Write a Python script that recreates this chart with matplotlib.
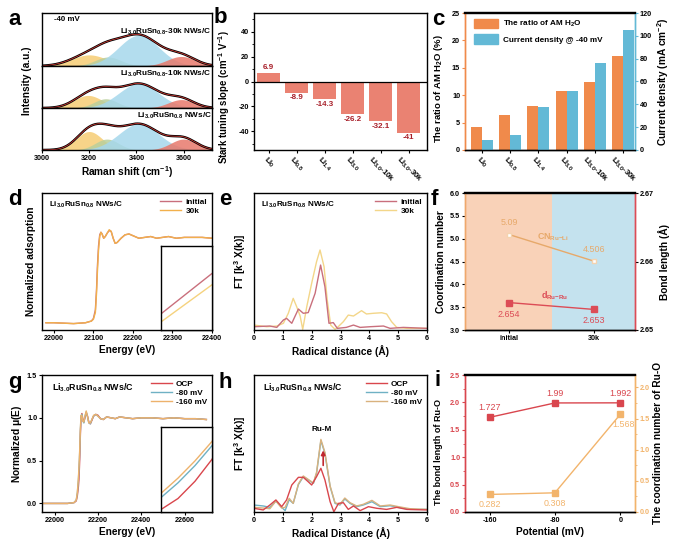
import numpy as np
import matplotlib
matplotlib.use('Agg')
import matplotlib.pyplot as plt
from matplotlib.patches import Patch
from matplotlib.lines import Line2D

plt.rcParams.update({
    'font.family': ['Liberation Sans', 'DejaVu Sans'],
    'font.weight': 'bold',
    'axes.labelweight': 'bold',
    'axes.unicode_minus': False,
    'mathtext.fontset': 'custom',
    'mathtext.rm': 'Liberation Sans:bold',
    'mathtext.it': 'Liberation Sans:bold',
    'mathtext.bf': 'Liberation Sans:bold',
    'mathtext.default': 'rm',
    'axes.linewidth': 1.0,
    'xtick.labelsize': 5.2,
    'ytick.labelsize': 5.2,
    'xtick.major.size': 2,
    'ytick.major.size': 2,
    'xtick.minor.size': 1.2,
    'ytick.minor.size': 1.2,
    'xtick.major.width': 0.8,
    'ytick.major.width': 0.8,
    'xtick.major.pad': 1.5,
    'ytick.major.pad': 1.5,
    'axes.labelsize': 7.3,
    'axes.labelpad': 2,
})

# ---------------- data ----------------
# (a) Raman fitted peaks: centers (cm-1), widths (sigma), heights (fraction of sub-panel)
raman_labels = ['Li$_{3.0}$RuSn$_{0.8}$-30k NWs/C', 'Li$_{3.0}$RuSn$_{0.8}$-10k NWs/C', 'Li$_{3.0}$RuSn$_{0.8}$ NWs/C']
raman_centers = [[3200, 3280, 3410, 3590], [3195, 3270, 3410, 3590], [3200, 3275, 3410, 3600]]
raman_sigmas = [[75, 55, 85, 60], [60, 50, 85, 55], [55, 50, 85, 55]]
raman_heights = [[0.21, 0.17, 0.58, 0.18], [0.30, 0.22, 0.58, 0.20], [0.44, 0.26, 0.62, 0.26]]
raman_colors = ['#F6CD74', '#B9CF9C', '#A6D8EC', '#E8796C']

# (b) Stark tuning slope
cats = ['Li$_0$', 'Li$_{0.8}$', 'Li$_{1.4}$', 'Li$_{3.0}$', 'Li$_{3.0}$-10k', 'Li$_{3.0}$-30k']
stark = [6.9, -8.9, -14.3, -26.2, -32.1, -41]
stark_labels = ['6.9', '-8.9', '-14.3', '-26.2', '-32.1', '-41']

# (c) AM H2O ratio and current density
am_ratio = [4.2, 6.4, 8.0, 10.8, 12.4, 17.2]
current = [9, 13, 38, 52, 76, 105]

# (d) XANES initial / 30k
E_d = [21980, 22000, 22050, 22080, 22095, 22100, 22105, 22108, 22110, 22113, 22116, 22119, 22122, 22126,
       22130, 22135, 22140, 22145, 22150, 22155, 22160, 22170, 22180, 22190, 22200, 22215, 22230, 22245,
       22260, 22275, 22290, 22310, 22330, 22350, 22375, 22400]
xan_init = [0.0, 0.0, -0.01, 0.0, 0.02, 0.05, 0.15, 0.40, 0.65, 0.90, 1.03, 1.06, 1.04, 0.99, 1.01, 1.05, 1.08,
            1.07, 0.99, 0.93, 0.94, 0.99, 1.03, 1.04, 1.02, 0.99, 1.00, 1.01, 0.99, 1.00, 1.01, 0.99, 1.00,
            1.00, 1.00, 0.99]
xan_30k = [0.0, 0.0, -0.01, 0.0, 0.02, 0.04, 0.12, 0.35, 0.58, 0.85, 1.01, 1.06, 1.04, 0.99, 1.01, 1.05, 1.09,
           1.07, 0.99, 0.93, 0.94, 0.99, 1.03, 1.04, 1.02, 0.99, 1.00, 1.01, 0.99, 1.00, 1.01, 0.99, 1.00,
           1.00, 1.00, 0.99]

# (e) FT-EXAFS initial / 30k
R_e_init = [0.0, 0.55, 0.79, 1.02, 1.13, 1.31, 1.54, 1.71, 1.88, 2.12, 2.31, 2.46, 2.60, 2.75, 2.89, 3.20,
            3.45, 3.68, 4.03, 4.49, 4.72, 5.18, 6.0]
ft_init = [0.024, 0.029, 0.019, 0.073, 0.085, 0.049, 0.153, 0.122, 0.127, 0.268, 0.474, 0.316, 0.049, 0.054,
           0.012, 0.019, 0.036, 0.019, 0.024, 0.029, 0.012, 0.019, 0.012]
R_e_30k = [0.0, 0.44, 0.79, 1.02, 1.19, 1.36, 1.48, 1.60, 1.69, 1.83, 2.00, 2.17, 2.29, 2.43, 2.54, 2.66,
           2.81, 2.92, 3.10, 3.27, 3.45, 3.73, 3.90, 4.14, 4.43, 4.60, 4.77, 4.95, 5.30, 6.0]
ft_30k = [0.036, 0.024, 0.029, 0.049, 0.122, 0.231, 0.170, 0.102, 0.005, 0.170, 0.341, 0.499, 0.584, 0.462,
          0.219, 0.036, 0.005, 0.024, 0.061, 0.109, 0.102, 0.141, 0.117, 0.122, 0.126, 0.117, 0.061, 0.019,
          0.012, 0.012]

# (f) coordination number / bond length
f_cats = ['initial', '30k']
cn_ru_li = [5.09, 4.506]
d_ru_ru = [2.654, 2.653]

# (g) in-situ XANES
E_g = [21940, 21980, 22020, 22060, 22090, 22100, 22105, 22110, 22112, 22114, 22116, 22119, 22122, 22126, 22130,
       22135, 22140, 22146, 22152, 22158, 22165, 22172, 22180, 22190, 22200, 22212, 22225, 22240, 22260, 22280,
       22300, 22330, 22360, 22400, 22450, 22500, 22550, 22600, 22650, 22700]
mu_ocp = [0.0, 0.0, 0.0, 0.0, 0.01, 0.03, 0.09, 0.20, 0.27, 0.38, 0.52, 0.80, 1.00, 1.05, 0.99, 0.95, 1.00, 1.06,
          1.02, 0.95, 0.93, 0.97, 1.02, 1.04, 1.03, 0.99, 0.98, 1.01, 1.00, 0.99, 1.01, 1.00, 0.99, 1.00, 1.00,
          0.99, 1.00, 0.99, 0.99, 0.98]
mu_80 = [0.0, 0.0, 0.0, 0.0, 0.01, 0.04, 0.12, 0.276, 0.37, 0.48, 0.607, 0.85, 1.02, 1.04, 0.97, 0.94, 1.01,
         1.07, 1.01, 0.94, 0.93, 0.98, 1.02, 1.04, 1.02, 0.99, 0.98, 1.01, 1.00, 0.99, 1.01, 1.00, 0.99, 1.00,
         1.00, 0.99, 1.00, 0.99, 0.99, 0.98]
mu_160 = [0.0, 0.0, 0.0, 0.0, 0.01, 0.04, 0.13, 0.303, 0.40, 0.51, 0.634, 0.87, 1.03, 1.03, 0.96, 0.95, 1.02,
          1.08, 1.01, 0.94, 0.94, 0.98, 1.03, 1.04, 1.02, 0.99, 0.98, 1.01, 1.00, 0.99, 1.01, 1.00, 0.99, 1.00,
          1.00, 0.99, 1.00, 0.99, 0.99, 0.98]

# (h) in-situ FT-EXAFS
R_h_ocp = [0.0, 0.32, 0.55, 0.76, 0.96, 1.13, 1.31, 1.54, 1.71, 1.88, 2.00, 2.17, 2.32, 2.46, 2.64, 2.77, 2.93,
           3.10, 3.27, 3.45, 3.68, 3.97, 4.26, 4.60, 4.95, 5.30, 6.0]
ft_ocp = [0.027, 0.015, 0.051, 0.088, 0.039, 0.088, 0.197, 0.253, 0.253, 0.221, 0.197, 0.258, 0.319, 0.234,
          0.075, 0.002, 0.063, 0.068, 0.019, 0.044, 0.010, 0.039, 0.027, 0.019, 0.034, 0.019, 0.015]
R_h_v = [0.0, 0.32, 0.55, 0.76, 0.96, 1.08, 1.22, 1.36, 1.54, 1.71, 1.88, 2.06, 2.17, 2.32, 2.46, 2.64, 2.81,
         2.98, 3.15, 3.33, 3.56, 3.79, 4.09, 4.38, 4.72, 5.01, 5.41, 6.0]
ft_80 = [0.051, 0.044, 0.034, 0.080, 0.034, 0.010, 0.090, 0.063, 0.200, 0.258, 0.234, 0.209, 0.282, 0.521,
         0.428, 0.185, 0.063, 0.051, 0.095, 0.063, 0.039, 0.051, 0.075, 0.039, 0.046, 0.034, 0.019, 0.019]
ft_160 = [0.034, 0.029, 0.024, 0.080, 0.029, 0.034, 0.100, 0.063, 0.205, 0.263, 0.238, 0.212, 0.290, 0.530,
          0.435, 0.190, 0.068, 0.056, 0.102, 0.068, 0.044, 0.056, 0.085, 0.044, 0.051, 0.039, 0.024, 0.019]

# (i) Ru-O bond length and coordination number
potential = [-160, -80, 0]
bond_ruo = [1.727, 1.99, 1.992]
cn_ruo = [0.282, 0.308, 1.568]

# ---------------- figure ----------------
W, H = 683, 545
fig = plt.figure(figsize=(W / 100, H / 100), dpi=100)


def axbox(l, t, r, b):
    return fig.add_axes([l / W, 1 - b / H, (r - l) / W, (b - t) / H])


def letter(x, y, s):
    fig.text(x / W, 1 - y / H, s, fontsize=16, fontweight='bold', va='top', ha='left')


def figtxt(x, y, s, **kw):
    fig.text(x / W, 1 - y / H, s, **kw)


leg_kw = dict(frameon=False, fontsize=5.9, handlelength=2.6, borderaxespad=0.2,
              labelspacing=0.15, handletextpad=0.5)

# ----- (a) -----
bounds = [13, 66, 108, 150]
xr = np.linspace(3000, 3720, 400)
for k in range(3):
    ax = axbox(42, bounds[k], 212, bounds[k + 1])
    total = np.zeros_like(xr)
    for c, s, h, col in zip(raman_centers[k], raman_sigmas[k], raman_heights[k], raman_colors):
        g = h * np.exp(-(xr - c) ** 2 / (2 * s ** 2))
        total += g
        ax.fill_between(xr, 0, g, color=col, alpha=0.85, lw=0)
    ax.plot(xr, total, color='black', lw=1.7)
    ax.plot(xr, total, color='#E8403A', lw=0.5)
    ax.set_xlim(3000, 3720)
    ax.set_ylim(0, 1.0)
    ax.set_yticks([])
    ax.text(0.998, 0.93 if k else 0.74, raman_labels[k], transform=ax.transAxes, ha='right', va='top', fontsize=5.9)
    if k == 0:
        ax.text(0.07, 0.95, '-40 mV', transform=ax.transAxes, ha='left', va='top', fontsize=5.7)
    if k < 2:
        ax.set_xticks([])
    else:
        ax.set_xticks([3000, 3200, 3400, 3600])
        ax.set_xlabel('Raman shift (cm$^{-1}$)')
figtxt(27, 81, 'Intensity (a.u.)', rotation=90, ha='center', va='center', fontsize=7.3, fontweight='bold')
letter(8, 9, 'a')

# ----- (b) -----
ax = axbox(254, 13, 427, 150)
xb = np.arange(len(cats))
ax.bar(xb, stark, width=0.82, color='#EA8272')
ax.axhline(0, color='black', lw=0.9)
for xi, v, lab in zip(xb, stark, stark_labels):
    ax.text(xi, v + (1.2 if v > 0 else -1.2), lab, ha='center', va='bottom' if v > 0 else 'top',
            fontsize=5.8, color='#A8202A')
ax.set_xlim(-0.52, 5.65)
ax.set_ylim(-55, 55)
ax.set_yticks([-40, -20, 0, 20, 40])
ax.set_yticks(np.arange(-50, 55, 10), minor=True)
ax.set_xticks(xb)
ax.set_xticklabels(cats, rotation=-45, ha='center', va='top', fontsize=5.6)
ax.set_ylabel('Stark tuning slope (cm$^{-1}$ V$^{-1}$)', labelpad=1, fontsize=6.9)
ax.yaxis.set_label_coords(-0.125, 0.385)
letter(214, 7, 'b')

# ----- (c) -----
ax = axbox(465, 13, 635, 150)
ax2 = ax.twinx()
xc = np.arange(len(cats))
bw = 0.39
ax.bar(xc - bw / 2, am_ratio, width=bw, color='#F08A4B')
ax2.bar(xc + bw / 2, current, width=bw, color='#63B9D6')
ax.set_xlim(-0.59, 5.42)
ax.set_ylim(0, 25)
ax2.set_ylim(0, 120)
ax.set_yticks([0, 5, 10, 15, 20, 25])
ax2.set_yticks([0, 20, 40, 60, 80, 100, 120])
ax.set_xticks(xc)
ax.set_xticklabels(cats, rotation=-45, ha='center', va='top', fontsize=5.6)
ax.set_ylabel('The ratio of AM H$_2$O (%)', labelpad=1, fontsize=6.8)
ax.yaxis.set_label_coords(-0.12, 0.45)
ax2.set_ylabel('Current density (mA cm$^{-2}$)', labelpad=2)
for a_ in (ax, ax2):
    a_.spines['top'].set_linewidth(1.6)
    a_.spines['left'].set_color('#F08A4B')
    a_.spines['right'].set_color('#63B9D6')
ax2.tick_params(axis='y', color='#63B9D6')
ax.tick_params(axis='y', color='#F08A4B')
ax2.legend(handles=[Patch(color='#F08A4B', label='The ratio of AM H$_2$O'),
                    Patch(color='#63B9D6', label='Current density @ -40 mV')],
           loc='upper left', frameon=False, fontsize=5.9, handlelength=2.9, handleheight=1.4,
           borderaxespad=0.3, labelspacing=0.6, handletextpad=0.6, bbox_to_anchor=(0.02, 1.0))
letter(432, 9, 'c')

# ----- (d) -----
ax = axbox(42, 193, 212, 330)
c_init, c_30k = '#C96F7C', '#F2B04C'
ax.plot(E_d, xan_init, color=c_init, lw=1.0)
ax.plot(E_d, xan_30k, color=c_30k, lw=1.0)
ax.set_xlim(21970, 22400)
ax.set_ylim(-0.085, 1.52)
ax.set_xticks([22000, 22100, 22200, 22300, 22400])
ax.set_yticks([])
ax.set_xlabel('Energy (eV)')
ax.set_ylabel('Normalized adsorption', labelpad=4)
ax.text(0.04, 0.95, 'Li$_{3.0}$RuSn$_{0.8}$ NWs/C', transform=ax.transAxes, ha='left', va='top', fontsize=5.8)
ax.legend(handles=[Line2D([], [], color=c_init, lw=1.0, label='initial'),
                   Line2D([], [], color=c_30k, lw=1.0, label='30k')], loc='upper right', **leg_kw)
axi = axbox(161, 246, 212, 330)
axi.plot(E_d, xan_init, color=c_init, lw=1.0)
axi.plot(E_d, xan_30k, color='#F5D27E', lw=1.0)
axi.set_xlim(22108, 22110)
axi.set_ylim(0.30, 0.82)
axi.set_xticks([])
axi.set_yticks([])
letter(8, 189, 'd')

# ----- (e) -----
ax = axbox(254, 193, 427, 330)
c_30k_e = '#F3D689'
ax.plot(R_e_30k, ft_30k, color=c_30k_e, lw=1.0)
ax.plot(R_e_init, ft_init, color=c_init, lw=1.0)
ax.set_xlim(0, 6)
ax.set_ylim(0, 1)
ax.set_xticks([0, 1, 2, 3, 4, 5, 6])
ax.set_yticks([])
ax.set_xlabel('Radical distance (Å)')
ax.set_ylabel('FT [k$^3$ X(k)]', labelpad=4)
ax.text(0.04, 0.95, 'Li$_{3.0}$RuSn$_{0.8}$ NWs/C', transform=ax.transAxes, ha='left', va='top', fontsize=5.8)
ax.legend(handles=[Line2D([], [], color=c_init, lw=1.0, label='initial'),
                   Line2D([], [], color=c_30k_e, lw=1.0, label='30k')], loc='upper right', **leg_kw)
letter(219, 189, 'e')

# ----- (f) -----
ax = axbox(465, 193, 635, 330)
ax2 = ax.twinx()
xf = np.arange(len(f_cats))
ax.axvspan(-0.52, 0.5, color='#F9D2B8', lw=0)
ax.axvspan(0.5, 1.48, color='#C4E2EE', lw=0)
c_cn, c_d = '#E7A96A', '#DC4C56'
ax.plot(xf, cn_ru_li, color=c_cn, lw=1.0, marker='s', ms=2.5, mfc='white', mec='#F4D3B0')
ax2.plot(xf, d_ru_ru, color=c_d, lw=1.0, marker='s', ms=4, mfc=c_d, mec=c_d)
ax.set_xlim(-0.52, 1.48)
ax.set_ylim(3.0, 6.0)
ax2.set_ylim(2.65, 2.67)
ax.set_yticks([3.0, 3.5, 4.0, 4.5, 5.0, 5.5, 6.0])
ax2.set_yticks([2.65, 2.66, 2.67])
ax.set_xticks(xf)
ax.set_xticklabels(f_cats)
ax.set_ylabel('Coordination number', labelpad=3)
ax2.set_ylabel('Bond length (Å)', labelpad=3)
for a_ in (ax, ax2):
    a_.spines['top'].set_linewidth(1.6)
    a_.spines['left'].set_color('#EFA86C')
    a_.spines['right'].set_color(c_d)
tk = dict(ha='center', va='center', fontsize=6.4, fontweight='normal')
ax.text(0, 5.36, '5.09', color=c_cn, **tk)
ax.text(1, 4.76, '4.506', color=c_cn, **tk)
ax.text(0.52, 5.03, 'CN$_{Ru{-}Li}$', color=c_cn, ha='center', va='center', fontsize=6.4)
ax.text(0.54, 3.76, 'd$_{Ru{-}Ru}$', color=c_d, ha='center', va='center', fontsize=6.4)
ax.text(0, 3.34, '2.654', color=c_d, **tk)
ax.text(1, 3.2, '2.653', color=c_d, **tk)
letter(431, 189, 'f')

# ----- (g) -----
ax = axbox(42, 375, 212, 512)
c_ocp, c_80, c_160 = '#D9464C', '#6FB1C4', '#EDB26C'
ax.plot(E_g, mu_ocp, color=c_ocp, lw=1.0)
ax.plot(E_g, mu_80, color=c_80, lw=1.0)
ax.plot(E_g, mu_160, color=c_160, lw=1.0)
ax.set_xlim(21942, 22726)
ax.set_ylim(-0.1, 1.5)
ax.set_xticks([22000, 22200, 22400, 22600])
ax.set_yticks([0.0, 0.5, 1.0, 1.5])
ax.set_xlabel('Energy (eV)')
ax.set_ylabel('Normalized $\\mu$(E)', labelpad=2)
ax.text(0.06, 0.95, 'Li$_{3.0}$RuSn$_{0.8}$ NWs/C', transform=ax.transAxes, ha='left', va='top', fontsize=6.4)
ax.legend(handles=[Line2D([], [], color=c_ocp, lw=1.0, label='OCP'),
                   Line2D([], [], color=c_80, lw=1.0, label='-80 mV'),
                   Line2D([], [], color=c_160, lw=1.0, label='-160 mV')], loc='upper right', **leg_kw)
axi = axbox(161, 427, 212, 512)
axi.plot(E_g, mu_ocp, color=c_ocp, lw=1.0)
axi.plot(E_g, mu_80, color=c_80, lw=1.0)
axi.plot(E_g, mu_160, color=c_160, lw=1.0)
axi.set_xlim(22110, 22116)
axi.set_ylim(0.184, 0.726)
axi.set_xticks([])
axi.set_yticks([])
letter(8, 372, 'g')

# ----- (h) -----
ax = axbox(254, 375, 427, 512)
ax.plot(R_h_v, ft_80, color=c_80, lw=1.0)
ax.plot(R_h_v, ft_160, color='#D9B27E', lw=1.0)
ax.plot(R_h_ocp, ft_ocp, color=c_ocp, lw=1.0)
ax.annotate('', xy=(2.4, 0.47), xytext=(2.4, 0.32),
            arrowprops=dict(arrowstyle='-|>', color='#C0282F', lw=1.2, mutation_scale=6))
ax.text(2.35, 0.58, 'Ru-M', ha='center', va='bottom', fontsize=5.9)
ax.set_xlim(0, 6)
ax.set_ylim(0, 1)
ax.set_xticks([0, 1, 2, 3, 4, 5, 6])
ax.set_yticks([])
ax.set_xlabel('Radical Distance (Å)')
ax.set_ylabel('FT [k$^3$ X(k)]', labelpad=4)
ax.text(0.05, 0.95, 'Li$_{3.0}$RuSn$_{0.8}$ NWs/C', transform=ax.transAxes, ha='left', va='top', fontsize=6.2)
ax.legend(handles=[Line2D([], [], color=c_ocp, lw=1.0, label='OCP'),
                   Line2D([], [], color=c_80, lw=1.0, label='-80 mV'),
                   Line2D([], [], color='#D9B27E', lw=1.0, label='-160 mV')], loc='upper right', **leg_kw)
letter(219, 372, 'h')

# ----- (i) -----
ax = axbox(465, 375, 635, 512)
ax2 = ax.twinx()
c_bl, c_cn2 = '#D9464E', '#F2B46C'
ax.plot(potential, bond_ruo, color=c_bl, lw=1.0, marker='s', ms=4)
ax2.plot(potential, cn_ruo, color=c_cn2, lw=1.0, marker='s', ms=4)
ax.set_xlim(-190, 18)
ax.set_ylim(0, 2.5)
ax2.set_ylim(0, 2.2)
ax.set_xticks(potential)
ax.set_yticks([0.0, 0.5, 1.0, 1.5, 2.0, 2.5])
ax.set_yticks(np.arange(0, 2.51, 0.25), minor=True)
ax2.set_yticks([0.0, 0.5, 1.0, 1.5, 2.0])
ax2.set_yticks(np.arange(0, 2.21, 0.25), minor=True)
ax.set_xlabel('Potential (mV)')
ax.set_ylabel('The bond length of Ru-O', labelpad=2, fontsize=6.5)
ax.yaxis.set_label_coords(-0.13, 0.44)
ax2.set_ylabel('The coordination number of Ru-O', labelpad=2)
ax.tick_params(axis='y', which='both', colors=c_bl)
ax2.tick_params(axis='y', which='both', colors=c_cn2)
for a_ in (ax, ax2):
    a_.spines['top'].set_linewidth(1.6)
    a_.spines['left'].set_color(c_bl)
    a_.spines['right'].set_color(c_cn2)
for p, v, t in zip(potential, [1.91, 2.17, 2.17], ['1.727', '1.99', '1.992']):
    ax.text(p, v, t, color=c_bl, **tk)
for p, v, t in zip(potential, [0.13, 0.16, 1.59], ['0.282', '0.308', '1.568']):
    ax.text(p + (4 if p == 0 else 0), v, t, color=c_cn2, **tk)
letter(434, 370, 'i')

fig.savefig('out.png', dpi=100)
